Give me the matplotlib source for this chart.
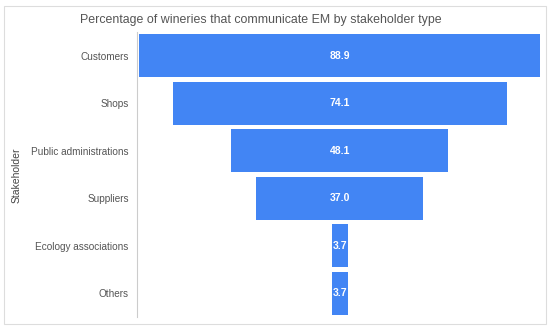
import matplotlib.pyplot as plt
from matplotlib.patches import Rectangle

plt.rcParams["font.family"] = ["Liberation Sans", "DejaVu Sans"]

stakeholders = ["Customers", "Shops", "Public administrations", "Suppliers",
                "Ecology associations", "Others"]
percentages = [88.9, 74.1, 48.1, 37.0, 3.7, 3.7]

W, H = 550, 330
fig = plt.figure(figsize=(5.5, 3.3), dpi=100)
fig.patches.append(Rectangle((4 / W, 6 / H), 542 / W, 318 / H, transform=fig.transFigure,
                             fill=False, edgecolor="#dddddd", linewidth=0.8))

# axes area in pixels: x 137..540, y 32..317 (from top)
ax = fig.add_axes([137 / W, 1 - 317 / H, 403 / W, 285 / H])

ypos = list(range(len(stakeholders)))
lefts = [-p / 2 for p in percentages]
ax.barh(ypos, percentages, left=lefts, height=0.91, color="#4285f4")
for y, p in zip(ypos, percentages):
    ax.text(0, y, f"{p:.1f}", ha="center", va="center", color="white",
            fontsize=7.5, fontweight="bold")

ax.set_xlim(-45.0, 44.4)
ax.set_ylim(len(stakeholders) - 0.5, -0.5)
ax.set_yticks(ypos)
ax.set_yticklabels(stakeholders, fontsize=7.2, color="#555555")
ax.tick_params(axis="y", length=0, pad=6)
ax.set_xticks([])
for s in ["top", "right", "bottom"]:
    ax.spines[s].set_visible(False)
ax.spines["left"].set_color("#cccccc")
ax.spines["left"].set_linewidth(0.8)

fig.text(17 / W, 1 - 175 / H, "Stakeholder", rotation=90, ha="center", va="center",
         fontsize=7.5, color="#444444")
fig.text(261 / W, 1 - 20 / H, "Percentage of wineries that communicate EM by stakeholder type",
         ha="center", va="center", fontsize=8.9, color="#555555")

fig.savefig("out.png", dpi=100)
